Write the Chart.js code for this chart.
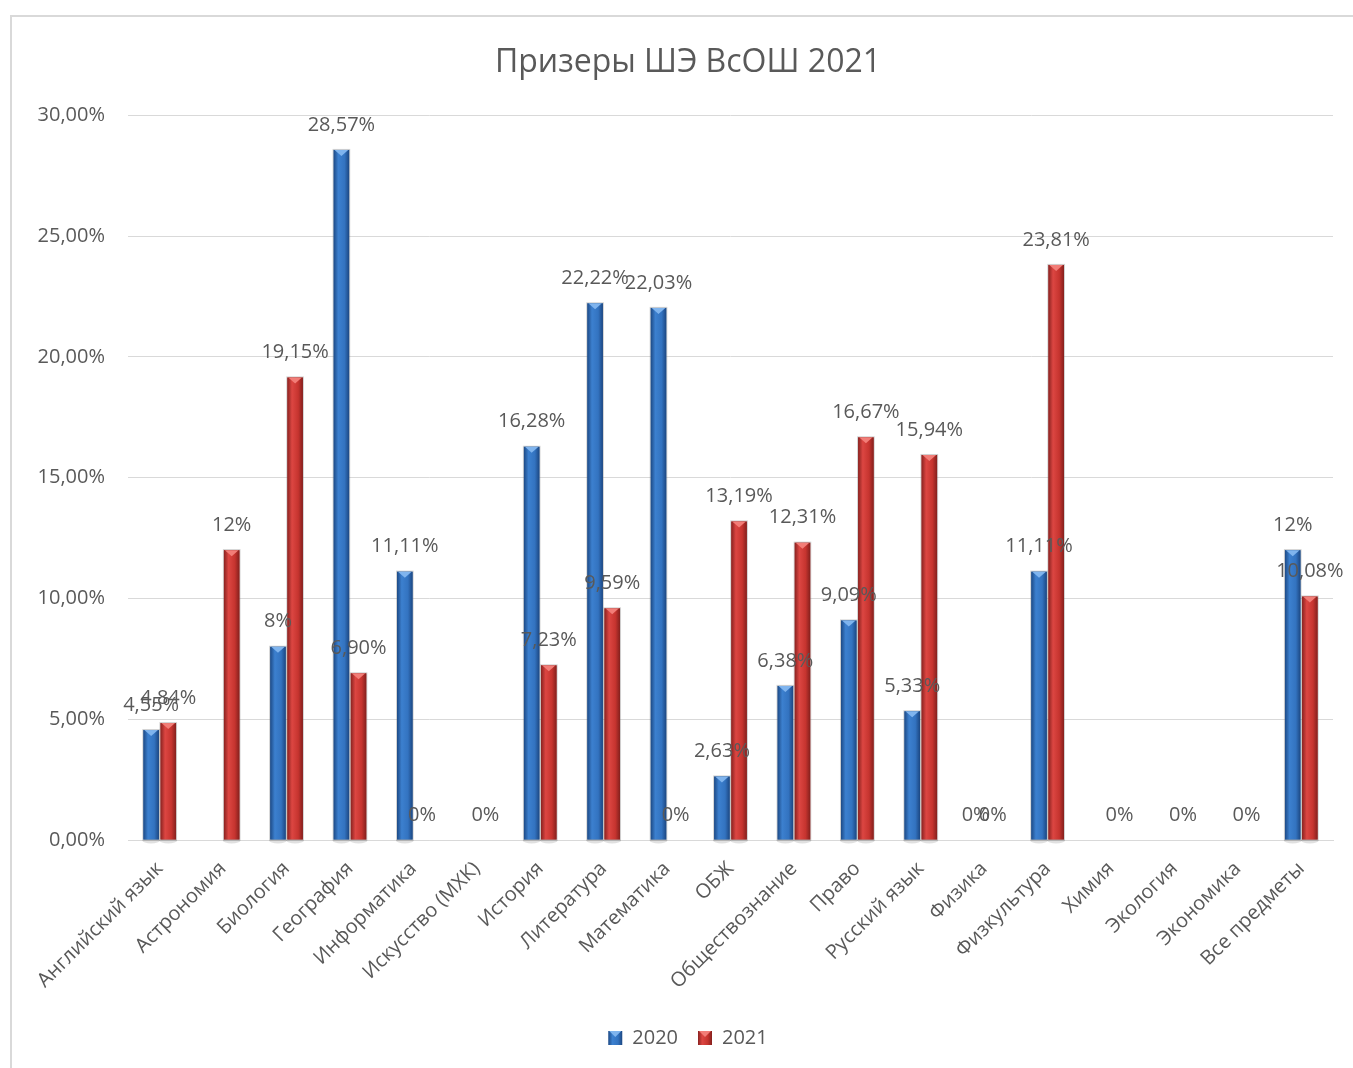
<!DOCTYPE html>
<html><head><meta charset="utf-8">
<script src="https://cdn.jsdelivr.net/npm/chart.js@4"></script>
<style>
html,body{margin:0;padding:0;background:#fff;overflow:hidden}
#wrap{position:relative;width:1353px;height:1068px}
#frame{position:absolute;left:10px;top:15px;width:1400px;height:1100px;border:2px solid #d9d9d9;box-sizing:border-box}
canvas{position:absolute;left:0;top:0}
</style></head><body>
<div id="wrap"><div id="frame"></div><canvas id="c" width="1353" height="1068"></canvas></div>
<script>
const categories = ['Английский язык','Астрономия','Биология','География','Информатика','Искусство (МХК)','История','Литература','Математика','ОБЖ','Обществознание','Право','Русский язык','Физика','Физкультура','Химия','Экология','Экономика','Все предметы'];
const series2020 = [4.55, null, 8, 28.57, 11.11, null, 16.28, 22.22, 22.03, 2.63, 6.38, 9.09, 5.33, 0, 11.11, null, null, null, 12];
const series2021 = [4.84, 12, 19.15, 6.90, 0, 0, 7.23, 9.59, 0, 13.19, 12.31, 16.67, 15.94, 0, 23.81, 0, 0, 0, 10.08];
const seriesNames = ['2020', '2021'];
const yTicks = [0, 5, 10, 15, 20, 25, 30];

const FONT = "'Open Sans', 'Liberation Sans', Arial, sans-serif";
const TXT = '#595959';
const fmtLabel = v => Number.isInteger(v) ? v + '%' : v.toFixed(2).replace('.', ',') + '%';
const fmtTick = v => v.toFixed(2).replace('.', ',') + '%';

const palettes = [
  {stops: ['#1d4a86', '#3c80cf', '#3373c0', '#1c4782'], tip: '#7fb4ee', solid: '#2e6bb6'},
  {stops: ['#8a2220', '#dc4642', '#c6342f', '#84201d'], tip: '#f27d77', solid: '#c0302d'}
];

function paintBar(ctx, p, l, y, width, h) {
  const r = l + width, x = l + width / 2;
  const g = ctx.createLinearGradient(l, 0, r, 0);
  g.addColorStop(0, p.stops[0]);
  g.addColorStop(0.3, p.stops[1]);
  g.addColorStop(0.7, p.stops[2]);
  g.addColorStop(1, p.stops[3]);
  ctx.fillStyle = g;
  ctx.fillRect(l, y, width, h);
  ctx.fillStyle = p.tip;
  ctx.beginPath();
  ctx.moveTo(l + 1, y);
  ctx.lineTo(r - 1, y);
  ctx.lineTo(x, y + Math.min(6, h));
  ctx.closePath();
  ctx.fill();
}

// let the y tick labels extend left of the (narrow) axis box without being clipped
const noLabelClip = {
  id: 'noLabelClip',
  beforeDraw(chart) {
    const s = chart.scales.y;
    if (s) s._computeLabelArea = () => undefined;
  }
};

const barStyle = {
  id: 'barStyle',
  afterDatasetsDraw(chart) {
    const ctx = chart.ctx;
    ctx.save();
    chart.data.datasets.forEach((ds, i) => {
      const meta = chart.getDatasetMeta(i);
      const p = palettes[i];
      meta.data.forEach((el, j) => {
        const v = ds.data[j];
        if (v == null || v === 0) return;
        const {x, y, width, base} = el.getProps(['x', 'y', 'width', 'base'], true);
        const l = x - width / 2;
        ctx.fillStyle = 'rgba(0,0,0,0.12)';
        ctx.beginPath();
        ctx.ellipse(x, base + 1, width / 2 + 1, 3, 0, 0, Math.PI * 2);
        ctx.fill();
        paintBar(ctx, p, l, y, width, base - y);
        ctx.strokeStyle = 'rgba(120,120,120,0.35)';
        ctx.lineWidth = 1;
        ctx.strokeRect(l - 0.5, y - 0.5, width + 1, base - y + 1);
      });
    });
    const lg = chart.legend;
    if (lg && lg.legendHitBoxes) {
      lg.legendHitBoxes.forEach((hb, i) => {
        const bw = lg.options.labels.boxWidth, bh = lg.options.labels.boxHeight;
        const by = hb.top + (hb.height - bh) / 2;
        ctx.fillStyle = '#fff';
        ctx.fillRect(hb.left - 1, by - 1, bw + 2, bh + 2);
        paintBar(ctx, palettes[i], hb.left, by, bw, bh);
      });
    }
    ctx.restore();
  }
};

const valueLabels = {
  id: 'valueLabels',
  afterDatasetsDraw(chart) {
    const ctx = chart.ctx;
    ctx.save();
    ctx.font = '20px ' + FONT;
    ctx.fillStyle = TXT;
    ctx.textAlign = 'center';
    ctx.textBaseline = 'middle';
    chart.data.datasets.forEach((ds, i) => {
      const meta = chart.getDatasetMeta(i);
      meta.data.forEach((el, j) => {
        const v = ds.data[j];
        if (v == null) return;
        const {x, y} = el.getProps(['x', 'y'], true);
        ctx.fillText(fmtLabel(v), x, y - 25);
      });
    });
    ctx.restore();
  }
};

new Chart(document.getElementById('c'), {
  type: 'bar',
  data: {
    labels: categories,
    datasets: [
      {label: seriesNames[0], data: series2020, backgroundColor: palettes[0].solid, borderWidth: 0},
      {label: seriesNames[1], data: series2021, backgroundColor: palettes[1].solid, borderWidth: 0}
    ]
  },
  options: {
    responsive: false,
    animation: false,
    devicePixelRatio: 1,
    categoryPercentage: 0.54,
    barPercentage: 0.91,
    layout: {padding: {left: 43, right: 20, top: 0, bottom: 10}},
    plugins: {
      title: {
        display: true,
        text: 'Призеры ШЭ ВсОШ 2021',
        color: TXT,
        font: {family: FONT, size: 32, weight: 'normal'},
        padding: {top: 44, bottom: 33}
      },
      legend: {
        position: 'bottom',
        labels: {
          color: TXT,
          font: {family: FONT, size: 20},
          boxWidth: 14,
          boxHeight: 14,
          padding: 20
        }
      },
      tooltip: {enabled: false}
    },
    scales: {
      x: {
        grid: {display: false},
        border: {display: true, color: '#d9d9d9', width: 1},
        ticks: {
          color: TXT,
          font: {family: FONT, size: 20},
          minRotation: 45,
          maxRotation: 45,
          padding: 9,
          autoSkip: false
        },
        afterFit(s) { s.height = 168; }
      },
      y: {
        min: 0,
        max: 30,
        afterBuildTicks(s) { s.ticks = yTicks.map(v => ({value: v})); },
        grid: {color: '#d9d9d9', lineWidth: 1, drawTicks: false},
        border: {display: false},
        ticks: {
          color: TXT,
          font: {family: FONT, size: 20},
          padding: 23,
          callback: v => fmtTick(v)
        },
        afterFit(s) { s.width = 85; }
      }
    }
  },
  plugins: [noLabelClip, barStyle, valueLabels]
});
</script>
</body></html>
